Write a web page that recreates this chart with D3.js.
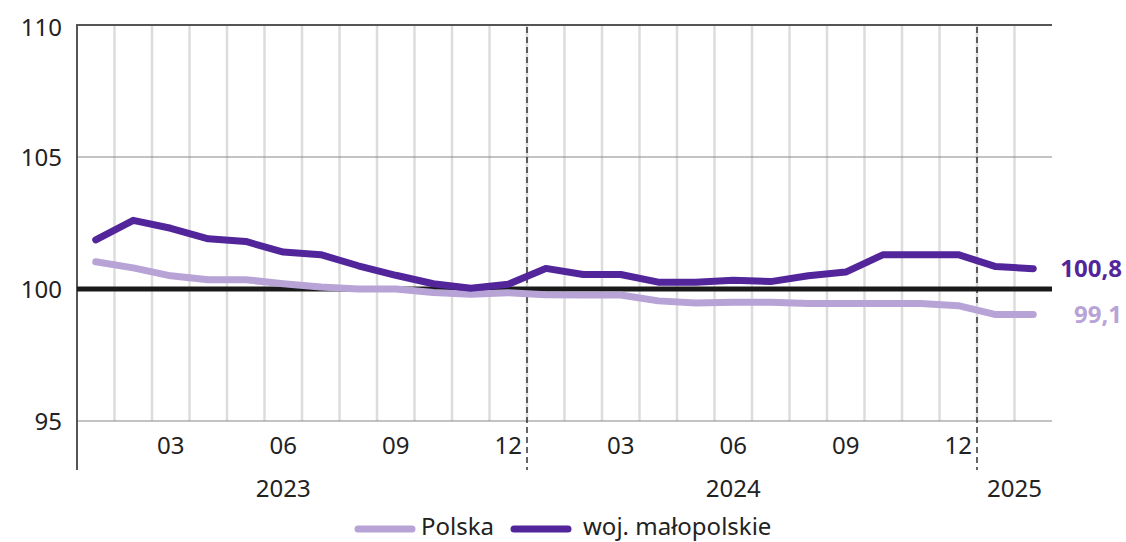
<!DOCTYPE html>
<html>
<head>
<meta charset="utf-8">
<script src="https://cdn.jsdelivr.net/npm/d3@7"></script>
<style>
    body { margin: 0; background: #fff; }
    svg text { font-family: "Noto Sans", sans-serif; fill: #222; }
</style>
</head>
<body>
<div id="chart"></div>
<script>
// months 2023-01 .. 2025-02
var months = ["2023-01","2023-02","2023-03","2023-04","2023-05","2023-06","2023-07","2023-08","2023-09","2023-10","2023-11","2023-12",
              "2024-01","2024-02","2024-03","2024-04","2024-05","2024-06","2024-07","2024-08","2024-09","2024-10","2024-11","2024-12",
              "2025-01","2025-02"];
var polska = [101.03, 100.8, 100.5, 100.35, 100.35, 100.2, 100.08, 100.0, 100.0, 99.87, 99.8, 99.86,
              99.78, 99.77, 99.77, 99.55, 99.47, 99.5, 99.5, 99.45, 99.45, 99.45, 99.45, 99.37,
              99.03, 99.03];
var malopolskie = [101.86, 102.6, 102.3, 101.9, 101.8, 101.4, 101.3, 100.88, 100.52, 100.2, 100.03, 100.18,
                   100.78, 100.55, 100.55, 100.26, 100.26, 100.33, 100.28, 100.5, 100.64, 101.3, 101.3, 101.3,
                   100.85, 100.77];
var monthTicks = ["2023-03","2023-06","2023-09","2023-12","2024-03","2024-06","2024-09","2024-12"];
var yTicks = [95, 100, 105, 110];
var years = [
    { label: "2023", at: 5 },
    { label: "2024", at: 17 },
    { label: "2025", at: 24.5 }
];
var yearBreaks = [12, 24];
var endLabels = ["99,1", "100,8"];
var seriesNames = ["Polska", "woj. małopolskie"];

var colors = { polska: "#b8a3d7", malo: "#53259b" };

var width = 1126, height = 542;
var margin = { top: 25, left: 77, right: 74, bottom: 121 };

var svg = d3.select('#chart').append('svg')
    .attr('width', width)
    .attr('height', height);

var x = d3.scaleBand()
    .domain(months)
    .range([margin.left, width - margin.right]);

var y = d3.scaleLinear()
    .domain([95, 110])
    .range([421, margin.top]);

var cx = function(m) { return x(m) + x.bandwidth() / 2; };
var edge = function(i) { return margin.left + i * x.step(); };

// vertical month grid
svg.append('g')
    .selectAll('line')
    .data(d3.range(1, months.length))
    .enter().append('line')
        .attr('x1', edge).attr('x2', edge)
        .attr('y1', y(110) + 1).attr('y2', y(95))
        .attr('stroke', '#dcdcdc')
        .attr('stroke-width', 2.5);

// horizontal grid
svg.append('g')
    .selectAll('line')
    .data([95, 105])
    .enter().append('line')
        .attr('x1', margin.left).attr('x2', width - margin.right)
        .attr('y1', function(d) { return y(d); })
        .attr('y2', function(d) { return y(d); })
        .attr('stroke', '#888')
        .attr('stroke-width', 1.2);

// top border
svg.append('line')
    .attr('x1', margin.left).attr('x2', width - margin.right)
    .attr('y1', y(110)).attr('y2', y(110))
    .attr('stroke', '#555')
    .attr('stroke-width', 2);

// year break dashed lines
svg.append('g')
    .selectAll('line')
    .data(yearBreaks)
    .enter().append('line')
        .attr('x1', edge).attr('x2', edge)
        .attr('y1', y(110) + 2).attr('y2', 470)
        .attr('stroke', '#333')
        .attr('stroke-width', 1.5)
        .attr('stroke-dasharray', '6,4');

// left axis line
svg.append('line')
    .attr('x1', margin.left).attr('x2', margin.left)
    .attr('y1', y(110) - 1).attr('y2', 470)
    .attr('stroke', '#555')
    .attr('stroke-width', 2);

// y labels
svg.append('g')
    .selectAll('text')
    .data(yTicks)
    .enter().append('text')
        .attr('x', 62)
        .attr('y', function(d) { return y(d); })
        .attr('dy', function(d) { return d === 110 ? '0.45em' : '0.38em'; })
        .attr('text-anchor', 'end')
        .style('font-size', '24px')
        .text(function(d) { return d; });

// baseline 100
svg.append('line')
    .attr('x1', margin.left).attr('x2', width - margin.right)
    .attr('y1', y(100)).attr('y2', y(100))
    .attr('stroke', '#1a1a1a')
    .attr('stroke-width', 5);

// month labels
svg.append('g')
    .selectAll('text')
    .data(monthTicks)
    .enter().append('text')
        .attr('x', cx)
        .attr('y', 454)
        .attr('text-anchor', 'middle')
        .style('font-size', '24px')
        .text(function(d) { return d.slice(5); });

// year labels
svg.append('g')
    .selectAll('text')
    .data(years)
    .enter().append('text')
        .attr('x', function(d) { return margin.left + (d.at + 0.5) * x.step(); })
        .attr('y', 497)
        .attr('text-anchor', 'middle')
        .style('font-size', '24px')
        .text(function(d) { return d.label; });

var line = d3.line()
    .x(function(d, i) { return cx(months[i]); })
    .y(function(d) { return y(d); });

svg.append('path')
    .datum(polska)
    .attr('d', line)
    .attr('fill', 'none')
    .attr('stroke', colors.polska)
    .attr('stroke-width', 7)
    .attr('stroke-linecap', 'round')
    .attr('stroke-linejoin', 'round');

svg.append('path')
    .datum(malopolskie)
    .attr('d', line)
    .attr('fill', 'none')
    .attr('stroke', colors.malo)
    .attr('stroke-width', 7)
    .attr('stroke-linecap', 'round')
    .attr('stroke-linejoin', 'round');

// end labels
var last = months.length - 1;
svg.append('text')
    .attr('x', 1122)
    .attr('y', y(polska[last]) + 8)
    .attr('text-anchor', 'end')
    .style('font-size', '24px')
    .style('font-weight', 'bold')
    .style('fill', colors.polska)
    .text(endLabels[0]);

svg.append('text')
    .attr('x', 1122)
    .attr('y', y(malopolskie[last]) + 8)
    .attr('text-anchor', 'end')
    .style('font-size', '24px')
    .style('font-weight', 'bold')
    .style('fill', colors.malo)
    .text(endLabels[1]);

// legend (lifted a little so descenders stay inside the frame)
var legend = [
    { name: seriesNames[0], color: colors.polska, x: 358, w: 54, tx: 421 },
    { name: seriesNames[1], color: colors.malo, x: 514, w: 54, tx: 583 }
];
var lg = svg.append('g').selectAll('g').data(legend).enter().append('g');
lg.append('line')
    .attr('x1', function(d) { return d.x; })
    .attr('x2', function(d) { return d.x + d.w; })
    .attr('y1', 529).attr('y2', 529)
    .attr('stroke', function(d) { return d.color; })
    .attr('stroke-width', 7)
    .attr('stroke-linecap', 'round');
lg.append('text')
    .attr('x', function(d) { return d.tx; })
    .attr('y', 535)
    .style('font-size', '24px')
    .text(function(d) { return d.name; });
</script>
</body>
</html>
